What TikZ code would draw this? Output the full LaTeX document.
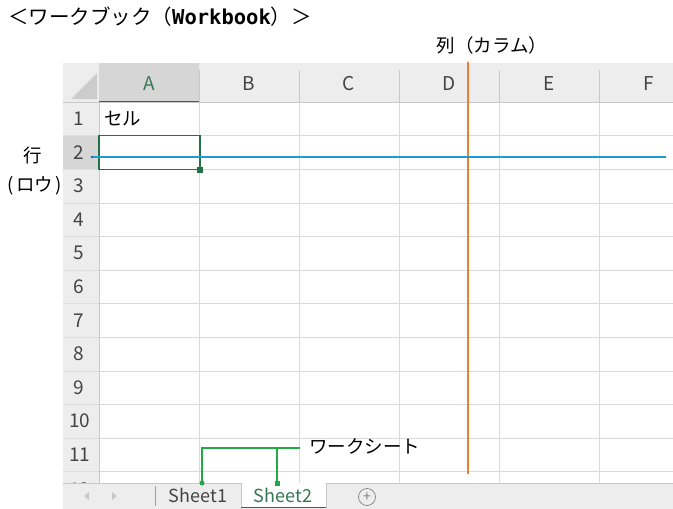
\documentclass[tikz,border=0pt]{standalone}
\usepackage{fontspec}
\usetikzlibrary{calc}
\setmainfont{Noto Sans CJK JP}
\newfontfamily\monob{DejaVu Sans Mono}
\definecolor{hdr}{HTML}{EDEDED}
\definecolor{hdrsel}{HTML}{D6D6D6}
\definecolor{grid}{HTML}{DADADA}
\definecolor{hdrline}{HTML}{C8C8C8}
\definecolor{xlgreen}{HTML}{217346}
\definecolor{brgreen}{HTML}{22AA44}
\definecolor{colorange}{HTML}{ED7D31}
\definecolor{rowblue}{HTML}{1E9BD7}
\definecolor{txtgray}{HTML}{444444}
\begin{document}
\begin{tikzpicture}[x=1pt,y=-1pt,
  hdrtxt/.style={font=\fontsize{19}{19}\selectfont, text=txtgray, inner sep=0pt},
  lbl/.style={font=\fontsize{18.5}{18.5}\selectfont, text=black, inner sep=0pt},
  tabtxt/.style={font=\fontsize{18}{18}\selectfont, inner sep=0pt}]
\useasboundingbox (0,0) rectangle (673,509);
\fill[white] (0,0) rectangle (673,509);
% ---------- sheet area ----------
\begin{scope}
\clip (63,63) rectangle (673,509);
% header row and row header backgrounds
\fill[hdr] (63,63) rectangle (673,102);
\fill[hdr] (63,102) rectangle (99,483);
\fill[hdrsel] (99,63) rectangle (199,102);
\fill[hdrsel] (63,135.6) rectangle (99,169.2);
% corner triangle
\fill[hdrline!85!black!60] (97,73) -- (97,99) -- (71,99) -- cycle;
% grid lines in cells
\foreach \x in {199,299,399,499,599} \draw[grid] (\x,102) -- (\x,483);
\foreach \k in {1,...,11} \draw[grid] (99,102+\k*33.6) -- (673,102+\k*33.6);
% row header separators
\foreach \k in {1,...,11} \draw[hdrline!60] (63,102+\k*33.6) -- (99,102+\k*33.6);
\draw[hdrline] (99,102) -- (99,483);
\draw[hdrline] (63,102) -- (673,102);
% header column separators
\foreach \x in {199,299,399,499,599} \draw[hdrline] (\x,70) -- (\x,102);
\draw[xlgreen, line width=1.2pt] (99,101.4) -- (199,101.4);
% column letters
\node[hdrtxt, text=xlgreen!70!gray] (cA) at (149,84) {A};
\node[hdrtxt] (cB) at (249,84) {B};
\node[hdrtxt] (cC) at (349,84) {C};
\node[hdrtxt] (cD) at (449,84) {D};
\node[hdrtxt] (cE) at (549,84) {E};
\node[hdrtxt] (cF) at (649,84) {F};
% row numbers
\foreach \k in {1,...,9}
  \node[hdrtxt] (r\k) at (79,102+\k*33.6-16.8) {\k};
\node[hdrtxt] (r10) at (80,421.2) {10};
\node[hdrtxt] (r11) at (80,454.8) {11};
\node[hdrtxt] (r12) at (80,490) {12};
% tab bar
\fill[hdr] (63,483) rectangle (673,509);
\draw[hdrline] (63,483) -- (673,483);
\end{scope}
% tab bar contents (scroll arrows as small triangles)
\fill[hdrline] (89,492) -- (89,500) -- (84,496) -- cycle;
\fill[hdrline] (112,492) -- (112,500) -- (117,496) -- cycle;
\draw[hdrline!80!black] (155,486) -- (155,506);
\fill[white] (241,483) rectangle (326,508);
\draw[hdrline] (241,483) -- (241,508);
\draw[hdrline] (326,483) -- (326,508);
\draw[xlgreen, line width=1pt] (241,507.5) -- (326,507.5);
\node[tabtxt, text=txtgray] (sh1) at (198,495) {Sheet1};
\node[tabtxt, text=xlgreen!80!gray] (sh2) at (283,495) {Sheet2};
\node[circle, draw=gray, line width=0.7pt, minimum size=17pt, inner sep=0pt,
      font=\fontsize{14}{14}\selectfont, text=gray] (plus) at (367,497) {+};
% selected cell A2
\draw[xlgreen, line width=1.2pt] (99,135.6) rectangle (200,169.2);
\fill[xlgreen] (197,167) rectangle (203,173);
% cell text
\node[lbl, anchor=west] (cell) at (104,118.5) {セル};
% title
\node[anchor=west, inner sep=0pt, font=\fontsize{20.5}{20.5}\selectfont] (title) at (8,17)
  {＜ワークブック（{\monob\bfseries Workbook}）＞};
% column label and orange line
\node[lbl] (collbl) at (492,45) {列（カラム）};
\coordinate (oTop) at (467.5,62);
\coordinate (oBot) at (467.5,474);
\draw[colorange, line width=2pt] (oTop) -- (oBot);
% row label and blue line
\node[lbl] (rowlbl1) at (33,155) {行};
\node[lbl] (rowlbl2) at (35,186) {(\kern2.5pt ロウ\kern2.5pt)};
\coordinate (bL) at (92,157);
\coordinate (bR) at (666,157);
\draw[rowblue, line width=2pt] (bL) -- (bR);
\fill[rowblue!70!black] (92,157) circle (1.3pt);
% worksheet bracket
\node[lbl, anchor=west] (wslbl) at (309,446) {ワークシート};
\coordinate (b1) at (202,448);
\coordinate (b2) at (277,448);
\coordinate (b3) at (300,448);
\coordinate (t1) at (202,483);
\coordinate (t2) at (277,483);
\draw[brgreen, line width=2pt] (t1) -- (b1) -- (b3);
\draw[brgreen, line width=2pt] (b2) -- (t2);
\fill[brgreen] (t1) circle (2.5pt);
\fill[brgreen] ($(t2)+(-2.5,-2.5)$) rectangle ($(t2)+(2.5,2.5)$);
\end{tikzpicture}
\end{document}
